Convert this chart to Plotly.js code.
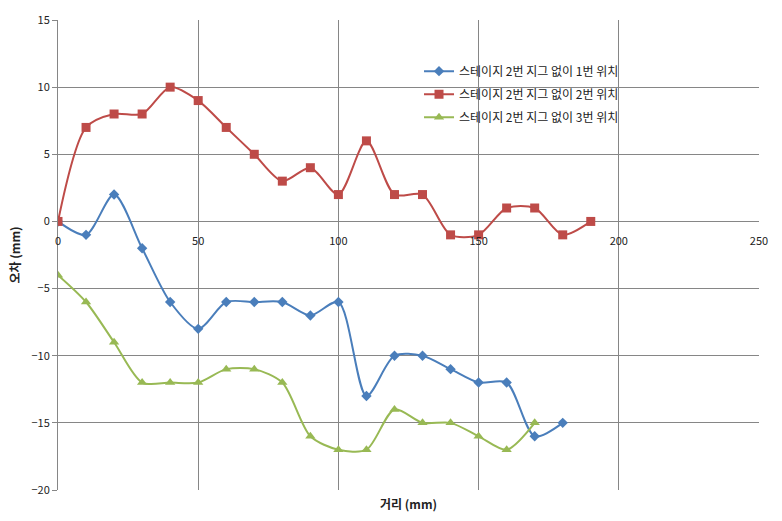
<!DOCTYPE html>
<html>
<head>
<meta charset="utf-8">
<script src="https://cdn.plot.ly/plotly-3.0.1.min.js"></script>
<style>html,body{margin:0;padding:0;background:#fff;}#chart{width:782px;height:521px;}</style>
</head>
<body>
<div id="chart"></div>
<script>
const seriesNames = ['스테이지 2번 지그 없이 1번 위치', '스테이지 2번 지그 없이 2번 위치', '스테이지 2번 지그 없이 3번 위치'];
const x1 = [0,10,20,30,40,50,60,70,80,90,100,110,120,130,140,150,160,170,180];
const y1 = [0,-1,2,-2,-6,-8,-6,-6,-6,-7,-6,-13,-10,-10,-11,-12,-12,-16,-15];
const x2 = [0,10,20,30,40,50,60,70,80,90,100,110,120,130,140,150,160,170,180,190];
const y2 = [0,7,8,8,10,9,7,5,3,4,2,6,2,2,-1,-1,1,1,-1,0];
const x3 = [0,10,20,30,40,50,60,70,80,90,100,110,120,130,140,150,160,170];
const y3 = [-4,-6,-9,-12,-12,-12,-11,-11,-12,-16,-17,-17,-14,-15,-15,-16,-17,-15];
const colors = ['#4A7EBB', '#BE4B48', '#98B954'];
const symbols = ['diamond', 'square', 'triangle-up'];
const sizes = [8, 9, 9];
const xs = [x1, x2, x3], ys = [y1, y2, y3];

const font = "'Noto Sans CJK KR', 'Noto Sans', sans-serif";
const traces = xs.map((x, i) => ({
  type: 'scatter', mode: 'lines+markers', name: seriesNames[i], legendgroup: 'g' + i,
  x: x, y: ys[i],
  line: {color: colors[i], width: 2, shape: 'spline', smoothing: 0.8},
  marker: {color: colors[i], symbol: symbols[i], size: sizes[i]}
}));

const yMin = -20, yMax = 15;
const layout = {
  width: 782, height: 521,
  margin: {l: 58, r: 23, t: 20, b: 31},
  paper_bgcolor: '#fff', plot_bgcolor: '#fff',
  font: {family: font, size: 11, color: '#222'},
  showlegend: true,
  legend: {x: 0.515, y: 0.922, xanchor: 'left', yanchor: 'top', bgcolor: 'rgba(0,0,0,0)',
           traceorder: 'grouped', tracegroupgap: 4,
           font: {family: font, size: 12, color: '#222'}},
  xaxis: {range: [0, 250], dtick: 50, tick0: 0, showgrid: true, gridcolor: '#868686', gridwidth: 1,
          zeroline: false, showline: false, anchor: 'free', position: (0 - yMin) / (yMax - yMin),
          ticks: 'outside', ticklen: 9, tickcolor: 'rgba(0,0,0,0)',
          tickfont: {family: font, size: 11, color: '#222'}, fixedrange: true},
  yaxis: {range: [yMin, yMax], dtick: 5, tick0: 0, showgrid: true, gridcolor: '#868686', gridwidth: 1,
          zeroline: false, showline: true, linecolor: '#868686', linewidth: 1,
          ticks: 'outside', ticklen: 5, tickcolor: '#868686',
          tickfont: {family: font, size: 11, color: '#222'},
          title: {text: '<b>오차 (mm)</b>', font: {family: font, size: 12, color: '#222'}, standoff: 8}},
  annotations: [{text: '<b>거리 (mm)</b>', xref: 'paper', yref: 'paper', x: 0.5, y: -0.006,
                 xanchor: 'center', yanchor: 'top', showarrow: false,
                 font: {family: font, size: 12, color: '#222'}}]
};
Plotly.newPlot('chart', traces, layout, {displayModeBar: false, staticPlot: true});
</script>
</body>
</html>
